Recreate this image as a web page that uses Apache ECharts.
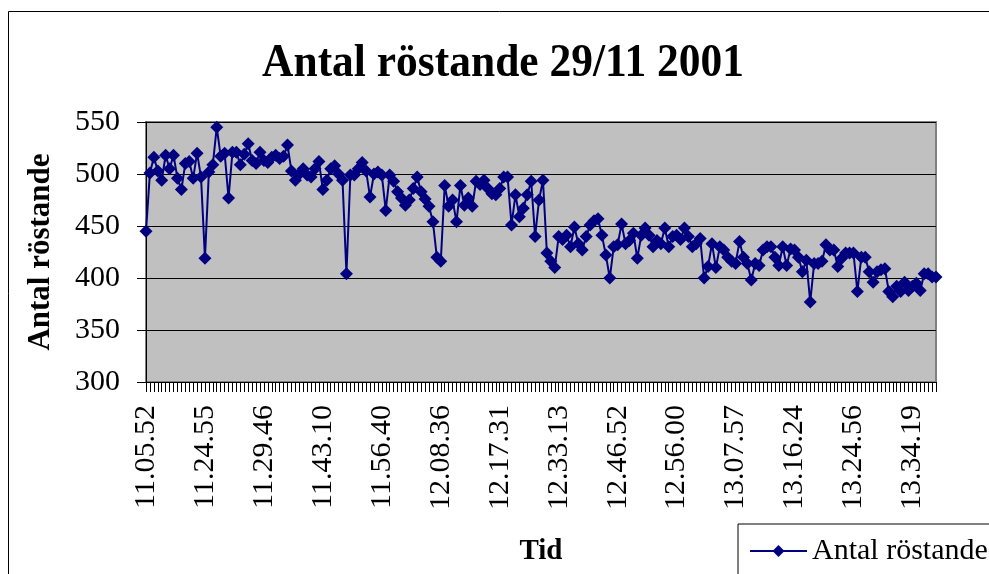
<!DOCTYPE html>
<html>
<head>
<meta charset="utf-8">
<script src="https://cdn.jsdelivr.net/npm/echarts@6/dist/echarts.min.js"></script>
<style>
html,body{margin:0;padding:0;background:#fff;}
#chart{width:989px;height:574px;}
</style>
</head>
<body>
<div id="chart"></div>
<script>
const titleText = 'Antal röstande 29/11 2001';
const seriesName = 'Antal röstande';
const yAxisTitle = 'Antal röstande';
const xAxisTitle = 'Tid';
const tickLabels = ['11.05.52','11.24.55','11.29.46','11.43.10','11.56.40','12.08.36','12.17.31',
  '12.33.13','12.46.52','12.56.00','13.07.57','13.16.24','13.24.56','13.34.19'];
const labelEvery = 15;
const values = [
  445,501,516,503,494,518,505,518,496,485,
  510,512,496,520,497,419,502,509,545,517,
  520,477,521,521,509,519,529,513,510,521,
  513,511,516,518,515,517,528,503,494,500,
  505,499,497,505,512,485,494,505,508,500,
  494,404,499,499,505,511,503,478,500,502,
  499,465,499,493,483,477,470,475,486,497,
  483,476,469,454,420,416,489,469,475,454,
  489,470,477,469,493,490,494,486,481,480,
  486,497,497,451,480,459,467,480,493,440,
  475,494,424,416,410,440,437,441,430,449,
  433,427,440,451,455,457,441,422,400,430,
  432,452,433,436,443,419,441,448,441,430,
  436,433,448,430,440,441,437,448,440,430,
  433,438,400,411,433,410,430,427,420,416,
  414,435,420,414,398,414,412,427,430,430,
  420,412,430,412,428,427,420,406,417,377,
  414,414,416,432,427,427,411,419,424,424,
  424,387,420,420,406,396,406,408,409,387,
  382,392,387,396,388,392,395,388,404,404,
  401,401
];
const categories = values.map((v, i) => (i % labelEvery === 0 ? (tickLabels[i / labelEvery] || '') : ''));

const serif = 'Liberation Serif';
const chart = echarts.init(document.getElementById('chart'), null, {renderer: 'canvas'});
chart.setOption({
  animation: false,
  backgroundColor: '#ffffff',
  graphic: [
    {type: 'rect', silent: true, z: -10,
     shape: {x: 8.5, y: 11.5, width: 1200, height: 800},
     style: {fill: 'none', stroke: '#000', lineWidth: 1}},
    {type: 'text', x: 503, y: 64, scaleX: 0.925,
     style: {text: titleText, fill: '#000', font: 'bold 47px "Liberation Serif"',
       textAlign: 'center', textVerticalAlign: 'middle'}}
  ],
  grid: {left: 146, top: 122, right: 53, bottom: 192, show: true,
    backgroundColor: '#C0C0C0', borderColor: '#808080', borderWidth: 2},
  legend: {
    show: true, left: 738, top: 524, orient: 'horizontal',
    padding: [12, 30, 12, 11], itemWidth: 57, itemHeight: 15, itemGap: 8,
    borderColor: '#000', borderWidth: 1, backgroundColor: '#fff',
    textStyle: {fontFamily: serif, fontSize: 30, color: '#000'},
    data: [seriesName]
  },
  xAxis: {
    type: 'category', data: categories, boundaryGap: false,
    name: xAxisTitle, nameLocation: 'middle', nameGap: 155,
    nameTextStyle: {fontFamily: serif, fontSize: 29, fontWeight: 'bold', color: '#000'},
    axisLine: {lineStyle: {color: '#000', width: 1}},
    axisTick: {show: true, interval: 0, length: 10, lineStyle: {color: '#000', width: 1}},
    axisLabel: {interval: labelEvery - 1, rotate: 90, margin: 23,
      fontFamily: serif, fontSize: 30, color: '#000'},
    splitLine: {show: false}
  },
  yAxis: {
    type: 'value', min: 300, max: 550, interval: 50,
    name: yAxisTitle, nameLocation: 'middle', nameGap: 90,
    nameTextStyle: {fontFamily: serif, fontSize: 31, fontWeight: 'bold', color: '#000'},
    axisLine: {show: true, lineStyle: {color: '#000', width: 1}},
    axisTick: {show: true, length: 9, lineStyle: {color: '#000'}},
    axisLabel: {margin: 26, fontFamily: serif, fontSize: 30, color: '#000'},
    splitLine: {show: true, lineStyle: {color: '#000', width: 1}}
  },
  series: [{
    name: seriesName, type: 'line', data: values,
    symbol: 'diamond', symbolSize: 13, showAllSymbol: true,
    itemStyle: {color: '#000080'},
    lineStyle: {color: '#000080', width: 2}
  }]
});
</script>
</body>
</html>
